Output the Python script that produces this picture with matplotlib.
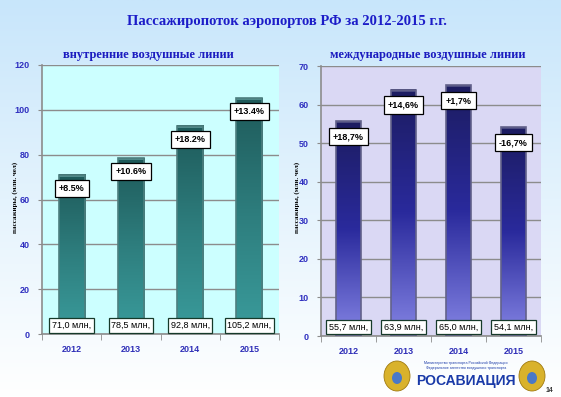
import numpy as np
import matplotlib
matplotlib.use("Agg")
import matplotlib.pyplot as plt
from matplotlib.colors import LinearSegmentedColormap
from matplotlib.patches import Ellipse

plt.rcParams['font.family'] = ['Liberation Sans', 'DejaVu Sans']

years = ['2012', '2013', '2014', '2015']

dom_values = [71.0, 78.5, 92.8, 105.2]
dom_labels = ['71,0 млн,', '78,5 млн,', '92,8 млн,', '105,2 млн,']
dom_growth = ['+8.5%', '+10.6%', '+18.2%', '+13.4%']

int_values = [55.7, 63.9, 65.0, 54.1]
int_labels = ['55,7 млн,', '63,9 млн,', '65,0 млн,', '54,1 млн,']
int_growth = ['+18,7%', '+14,6%', '+1,7%', '-16,7%']

W, H = 561, 397
fig = plt.figure(figsize=(W / 100, H / 100), dpi=100)

# page background: light blue to white
bg = fig.add_axes([0, 0, 1, 1], zorder=-10)
bg_cmap = LinearSegmentedColormap.from_list('bg', ['#c8e6fb', '#e4f3fd', '#ffffff'])
bg.imshow(np.linspace(0, 1, 256).reshape(-1, 1), cmap=bg_cmap, aspect='auto',
          extent=[0, 1, 0, 1])
bg.set_axis_off()


def px_axes(x0, y0, x1, y1):
    return fig.add_axes([x0 / W, 1 - y1 / H, (x1 - x0) / W, (y1 - y0) / H])


def panel(ax, values, labels, growth, ymax, ystep, face, colors, cap, edge,
          box_y, pct_off, title, title_x, ylab_x):
    x = np.arange(len(values))
    width = 0.44
    ax.set_facecolor(face)
    cmap = LinearSegmentedColormap.from_list('bar', colors)
    grad = np.linspace(0, 1, 256).reshape(-1, 1)
    for xi, v in zip(x, values):
        ax.imshow(grad, cmap=cmap, aspect='auto', origin='lower',
                  extent=[xi - width / 2, xi + width / 2, 0, v], zorder=2)
        ax.bar(xi, ymax * 0.008, bottom=v - ymax * 0.008, width=width,
               color=cap, zorder=3)
    ax.bar(x, values, width=width, facecolor='none', edgecolor=edge,
           linewidth=1.2, zorder=4)

    for xi, v, g in zip(x, values, growth):
        ax.text(xi, v - pct_off, g, ha='center', va='center', fontsize=6.5,
                color='black', fontweight='bold', zorder=6,
                bbox=dict(boxstyle='square,pad=0.45', fc='white', ec='black', lw=0.9))
    for xi, lab in zip(x, labels):
        ax.text(xi, box_y, lab, ha='center', va='center', fontsize=6.5,
                color='black', zorder=6,
                bbox=dict(boxstyle='square,pad=0.3', fc='white', ec='#163a2a', lw=0.9))

    ax.set_xlim(-0.5, len(values) - 0.5)
    ax.set_ylim(0, ymax)
    ax.set_yticks(np.arange(0, ymax + 1, ystep))
    ax.yaxis.grid(True, color='#8c8c8c', lw=1)
    ax.set_axisbelow(True)
    ax.set_xticks(x)
    ax.set_xticklabels(years)
    ax.set_xticks(np.arange(-0.5, len(values)), minor=True)
    ax.tick_params(axis='x', which='major', length=0, pad=8,
                   labelsize=6.5, labelcolor='#3030b8')
    ax.tick_params(axis='x', which='minor', length=4, color='#8c8c8c')
    ax.tick_params(axis='y', length=3, color='#8c8c8c', labelsize=6.5,
                   labelcolor='#3030c0', pad=6)
    for t in ax.get_xticklabels() + ax.get_yticklabels():
        t.set_fontweight('bold')
    for s in ['top', 'right']:
        ax.spines[s].set_visible(False)
    for s in ['left', 'bottom']:
        ax.spines[s].set_color('#8c8c8c')
        ax.spines[s].set_linewidth(1.2)

    fig.text(title_x / W, 1 - 55 / H, title, ha='center', va='center',
             fontsize=9, fontweight='bold', color='#1c1cc0',
             family=['Liberation Serif', 'DejaVu Serif'])
    fig.text(ylab_x / W, 1 - 197 / H, 'пассажиры, (млн. чел)', rotation=90,
             ha='center', va='center', fontsize=5, fontweight='bold', color='black',
             family=['Liberation Serif', 'DejaVu Serif'])


ax1 = px_axes(42, 65, 279, 334)
panel(ax1, dom_values, dom_labels, dom_growth, 120, 20, '#ccffff',
      ['#3a9c9c', '#2e7e7e', '#1e5a5a'], '#4f8a8a', '#4d7f7f',
      3.8, 6.0, 'внутренние воздушные линии', 148, 15)

ax2 = px_axes(321, 66, 541, 336)
panel(ax2, int_values, int_labels, int_growth, 70, 10, '#dad8f4',
      ['#8484e4', '#2a2a9c', '#1c1c60'], '#4a4a80', '#62628a',
      2.3, 4.0, 'международные воздушные линии', 428, 297)

fig.text(287 / W, 1 - 22 / H, 'Пассажиропоток аэропортов РФ за 2012-2015 г.г.',
         ha='center', va='center', fontsize=10.5, fontweight='bold',
         color='#1c1cc8', family=['Liberation Serif', 'DejaVu Serif'])

# footer
fig.text(466 / W, 1 - 363 / H, 'Министерство транспорта Российской Федерации',
         ha='center', va='center', fontsize=2.6, color='#1a3aa8')
fig.text(466 / W, 1 - 368 / H, 'Федеральное агентство воздушного транспорта',
         ha='center', va='center', fontsize=2.6, color='#1a3aa8')
fig.text(466 / W, 1 - 381 / H, 'РОСАВИАЦИЯ', ha='center', va='center',
         fontsize=10, fontweight='bold', color='#1a3aa8')
fig.text(549 / W, 1 - 391 / H, '14', ha='center', va='center', fontsize=5,
         fontweight='bold', color='#333333')
for cx in [397, 532]:
    bg.add_patch(Ellipse((cx / W, 1 - 376 / H), 26 / W, 30 / H,
                         fc='#d9b22c', ec='#a07a10', lw=0.6))
    bg.add_patch(Ellipse((cx / W, 1 - 378 / H), 10 / W, 12 / H,
                         fc='#4a78c8', ec='none'))

fig.savefig('out.png', dpi=100)
